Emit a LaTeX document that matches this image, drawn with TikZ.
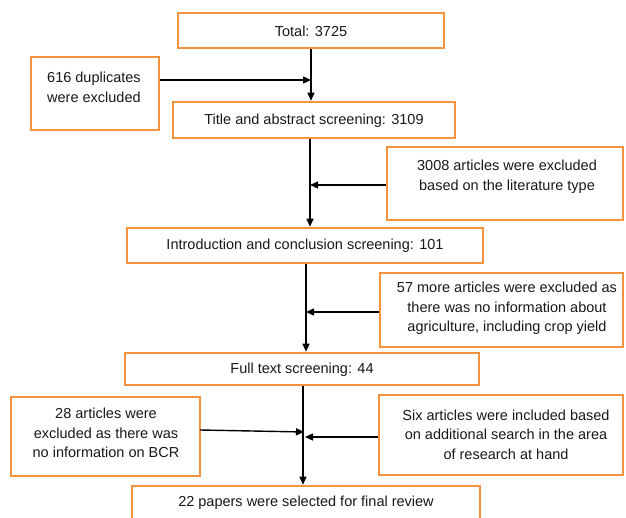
\documentclass[tikz,border=0pt]{standalone}
\usepackage{fontspec}
\setmainfont{Liberation Sans}
\usetikzlibrary{arrows.meta}
\definecolor{boxorange}{RGB}{244,146,62}
\begin{document}
\begin{tikzpicture}[x=1pt,y=-1pt,
  box/.style={draw=boxorange, line width=2.6pt, fill=white, inner sep=0pt},
  txt/.style={font=\fontsize{14.5pt}{19.5pt}\selectfont, align=center, inner sep=0pt, text=black!90},
  arr/.style={draw=black, line width=1.4pt, -{Triangle[length=8pt,width=7pt]}},
  ln/.style={draw=black, line width=1.4pt}]
\useasboundingbox (0,0) rectangle (626,518);
\begin{scope}
\clip (0,0) rectangle (626,518);
% boxes
\node[box, minimum width=266pt, minimum height=35pt] (total) at (311,30.5) {};
\node[txt] (totalt) at (311,31) {Total: 3725};
\node[box, minimum width=128pt, minimum height=73pt] (dup) at (95,93.5) {};
\node[txt, align=left, anchor=west] (dupt) at (47,87.5) {616 duplicates\\were excluded};
\node[box, minimum width=282pt, minimum height=36pt] (title) at (314,120) {};
\node[txt] (titlet) at (314,120.5) {Title and abstract screening: 3109};
\node[box, minimum width=236pt, minimum height=73pt] (ex1) at (505,183.5) {};
\node[txt] (ex1t) at (507,177) {3008 articles were excluded\\based on the literature type};
\node[box, minimum width=356pt, minimum height=35pt] (intro) at (305,245.5) {};
\node[txt] (introt) at (305,245.5) {Introduction and conclusion screening: 101};
\node[box, minimum width=243pt, minimum height=74pt] (ex2) at (501.5,310) {};
\node[txt] (ex2t) at (507,308.5) {57 more articles were excluded as\\there was no information about\\agriculture, including crop yield};
\node[box, minimum width=354pt, minimum height=32pt] (full) at (302,369) {};
\node[txt] (fullt) at (302,369.5) {Full text screening: 44};
\node[box, minimum width=189pt, minimum height=79pt] (ex3) at (105.5,436.5) {};
\node[txt] (ex3t) at (106,433) {28 articles were\\excluded as there was\\no information on BCR};
\node[box, minimum width=244pt, minimum height=80pt] (inc) at (501,435) {};
\node[txt] (inct) at (506,434.5) {Six articles were included based\\on additional search in the area\\of research at hand};
\node[box, minimum width=348pt, minimum height=60pt] (final) at (306,516) {};
\node[txt] (finalt) at (306,502.5) {22 papers were selected for final review};
\end{scope}
% connectors
\coordinate (c1) at (311,80);
\coordinate (c2) at (310,185);
\coordinate (c3) at (306,312);
\coordinate (c4) at (304,432);
\coordinate (c5) at (305,437);
\draw[arr] (total.south -| c1) -- (title.north -| c1);
\draw[arr] (dup.east |- c1) -- (c1);
\draw[arr] (title.south -| c2) -- (intro.north -| c2);
\draw[arr] (ex1.west |- c2) -- (c2);
\draw[arr] (intro.south -| c3) -- (full.north -| c3);
\draw[arr] (ex2.west |- c3) -- (c3);
\draw[arr] (full.south -| 303,0) -- (final.north -| 303,0);
\draw[arr] (200,430) -- (c4);
\draw[arr] (inc.west |- c5) -- (c5);
\end{tikzpicture}
\end{document}
